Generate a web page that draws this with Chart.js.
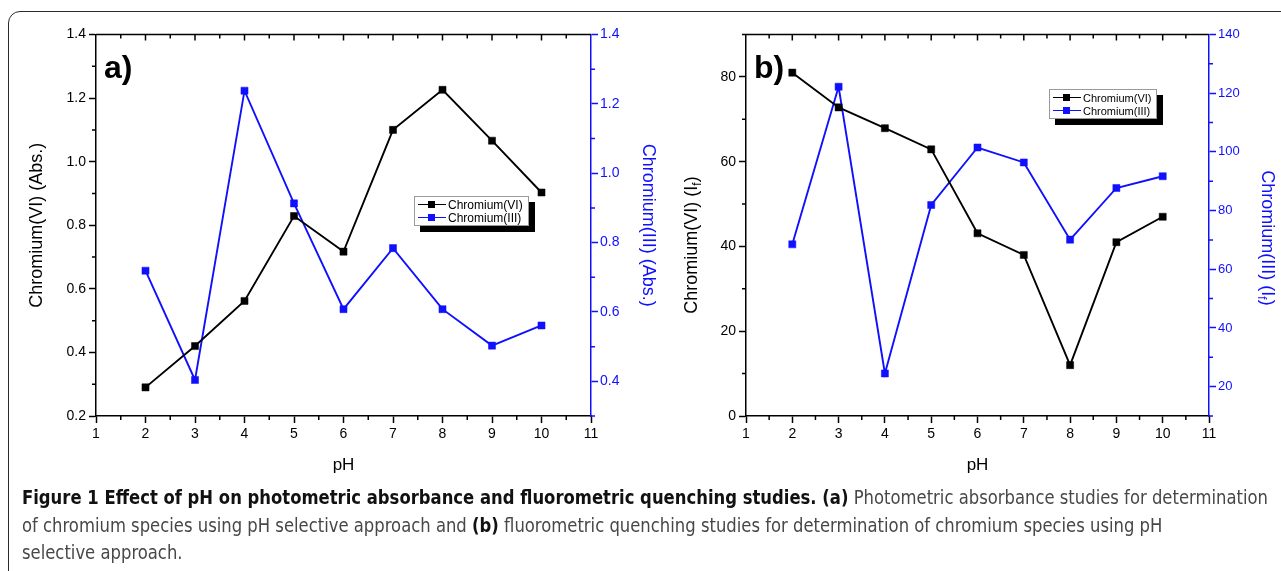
<!DOCTYPE html>
<html>
<head>
<meta charset="utf-8">
<script src="https://cdn.jsdelivr.net/npm/chart.js@4.4.1/dist/chart.umd.min.js"></script>
<style>
body { margin: 0; background: #fff; width: 1281px; height: 571px; overflow: hidden; position: relative; font-family: "Liberation Sans", Arial, sans-serif; }
#frame { position: absolute; left: 8px; top: 11px; width: 1300px; height: 640px; border: 1.5px solid #2b2b2b; border-radius: 12px; }
canvas { position: absolute; top: 0; }
#chartA { left: 0; }
#chartB { left: 670px; }
.legend { position: absolute; background: #fff; border: 1px solid #9a9a9a; box-shadow: 6px 6px 0 #000; font-size: 11px; padding: 1px 5px 1px 3px; color: #000; }
.legend .row { display: flex; align-items: center; height: 13px; white-space: nowrap; }
.legend .sw { position: relative; width: 28px; height: 13px; margin-right: 2px; }
.legend .sw i { position: absolute; left: 0; right: 0; top: 5.5px; height: 1.8px; }
.legend .sw b { position: absolute; left: 10px; top: 2.5px; width: 7px; height: 7px; }
#caption { position: absolute; left: 22px; top: 484px; font-family: "Liberation Sans Narrow", "DejaVu Sans Condensed", "Liberation Sans", sans-serif; font-size: 19px; line-height: 27.5px; color: #474747; }
#caption .ln { display: block; white-space: nowrap; transform-origin: 0 0; }
#caption b { color: #111; }
</style>
</head>
<body>
<div id="frame"></div>
<canvas id="chartA" width="670" height="490"></canvas>
<canvas id="chartB" width="611" height="490"></canvas>
<div class="legend" id="legendA" style="left:414px; top:196px; font-size:12px;"></div>
<div class="legend" id="legendB" style="left:1049px; top:89px;"></div>
<div id="caption">
  <span class="ln"><b>Figure 1 Effect of pH on photometric absorbance and fluorometric quenching studies. (a)</b> Photometric absorbance studies for determination</span>
  <span class="ln">of chromium species using pH selective approach and <b>(b)</b> fluorometric quenching studies for determination of chromium species using pH</span>
  <span class="ln">selective approach.</span>
</div>
<script>
// valores
const pH = [2, 3, 4, 5, 6, 7, 8, 9, 10];
const absCr6 = [0.29, 0.42, 0.562, 0.829, 0.717, 1.10, 1.226, 1.066, 0.903];
const absCr3 = [0.719, 0.404, 1.238, 0.913, 0.608, 0.784, 0.608, 0.503, 0.561];
const fluoCr6 = [81, 72.8, 67.9, 62.9, 43.1, 38, 12, 41, 47];
const fluoCr3 = [68.5, 122.2, 24.5, 81.9, 101.5, 96.4, 70.1, 87.7, 91.7];
const seriesNames = ["Chromium(VI)", "Chromium(III)"];

const xTicks = [1, 2, 3, 4, 5, 6, 7, 8, 9, 10, 11];
const absLeftTicks = [0.2, 0.4, 0.6, 0.8, 1.0, 1.2, 1.4];
const absRightTicks = [0.4, 0.6, 0.8, 1.0, 1.2, 1.4];
const fluoLeftTicks = [0, 20, 40, 60, 80];
const fluoRightTicks = [20, 40, 60, 80, 100, 120, 140];

const absTitles = ["Chromium(VI) (Abs.)", "Chromium(III) (Abs.)"];
const fluoTitles = ["Chromium(VI) (I", "Chromium(III) (I"];

const BLUE = "#1010ff";
const FONT = '"Liberation Sans", Arial, sans-serif';

// dibuja ticks menores, borde superior y titulos con subindice
const marcosPlugin = {
    id: "marcos",
    afterDraw(chart, args, opts) {
        const ctx = chart.ctx;
        const a = chart.chartArea;
        const x = chart.scales.x, y = chart.scales.y, y2 = chart.scales.y2;
        ctx.save();
        ctx.lineWidth = 1.5;
        ctx.strokeStyle = "#000";
        ctx.beginPath();
        ctx.moveTo(a.left, a.top);
        ctx.lineTo(a.right, a.top);
        ctx.stroke();

        ctx.beginPath();
        for (let v = x.min + 0.5; v < x.max; v += 0.5) {
            const px = x.getPixelForValue(v);
            const mayor = Number.isInteger(v);
            ctx.moveTo(px, a.top);
            ctx.lineTo(px, a.top + (mayor ? 6 : 4));
            if (!mayor) {
                ctx.moveTo(px, a.bottom);
                ctx.lineTo(px, a.bottom + 4);
            }
        }
        for (let v = y.min + opts.minorL; v < y.max + 1e-9; v += opts.minorL * 2) {
            const py = y.getPixelForValue(v);
            ctx.moveTo(a.left, py);
            ctx.lineTo(a.left - 4, py);
        }
        ctx.stroke();

        ctx.strokeStyle = BLUE;
        ctx.beginPath();
        for (let v = opts.minorR0; v < y2.max + 1e-9; v += opts.minorL2) {
            const py = y2.getPixelForValue(v);
            ctx.moveTo(a.right, py);
            ctx.lineTo(a.right + 4, py);
        }
        ctx.stroke();

        // etiqueta del panel
        ctx.fillStyle = "#000";
        ctx.font = "bold 32px " + FONT;
        ctx.textBaseline = "alphabetic";
        ctx.textAlign = "left";
        ctx.fillText(opts.panel, a.left + opts.panelDx, 78);

        if (opts.subTitles) {
            const t = opts.subTitles;
            tituloSub(ctx, t.lx, t.ly, -Math.PI / 2, fluoTitles[0], "f", ")", 18, "#000");
            tituloSub(ctx, t.rx, t.ry, Math.PI / 2, fluoTitles[1], "f", ")", 18, BLUE);
        }
        ctx.restore();
    }
};

function tituloSub(ctx, x, y, rot, main, sub, tail, size, color) {
    ctx.save();
    ctx.translate(x, y);
    ctx.rotate(rot);
    ctx.fillStyle = color;
    ctx.textBaseline = "middle";
    ctx.textAlign = "left";
    const f1 = size + "px " + FONT;
    const f2 = Math.round(size * 0.65) + "px " + FONT;
    ctx.font = f1;
    const w1 = ctx.measureText(main).width;
    const w3 = ctx.measureText(tail).width;
    ctx.font = f2;
    const w2 = ctx.measureText(sub).width;
    let cx = -(w1 + w2 + w3) / 2;
    ctx.font = f1;
    ctx.fillText(main, cx, 0);
    cx += w1;
    ctx.font = f2;
    ctx.fillText(sub, cx, size * 0.32);
    cx += w2;
    ctx.font = f1;
    ctx.fillText(tail, cx, 0);
    ctx.restore();
}

function serie(vals, color, axis, label) {
    return {
        label: label,
        data: pH.map((x, i) => ({ x: x, y: vals[i] })),
        yAxisID: axis,
        borderColor: color,
        backgroundColor: color,
        pointBackgroundColor: color,
        pointBorderColor: color,
        pointStyle: "rect",
        pointRadius: 5,
        pointBorderWidth: 0.5,
        borderWidth: 1.9,
        tension: 0
    };
}

function crearPanel(id, cfg) {
    return new Chart(document.getElementById(id), {
        type: "line",
        data: {
            datasets: [
                serie(cfg.left, "#000", "y", seriesNames[0]),
                serie(cfg.right, BLUE, "y2", seriesNames[1])
            ]
        },
        options: {
            responsive: false,
            animation: false,
            layout: { padding: { top: 34.5, left: 0, right: 0, bottom: 0 } },
            plugins: {
                legend: { display: false },
                tooltip: { enabled: false },
                marcos: cfg.marcos
            },
            scales: {
                x: {
                    type: "linear", min: 1, max: 11,
                    afterBuildTicks: s => { s.ticks = xTicks.map(v => ({ value: v })); },
                    afterFit: s => { s.height = 74; },
                    grid: { drawOnChartArea: false, tickLength: 7, tickColor: "#000", tickWidth: 1.5 },
                    border: { color: "#000", width: 1.5 },
                    ticks: { color: "#000", font: { size: 14, family: FONT }, padding: 3, maxRotation: 0, autoSkip: false },
                    title: { display: true, text: "pH", color: "#000", font: { size: 17, family: FONT }, padding: { bottom: 14 } }
                },
                y: {
                    type: "linear", position: "left", min: cfg.lmin, max: cfg.lmax,
                    afterBuildTicks: s => { s.ticks = cfg.lticks.map(v => ({ value: v })); },
                    afterFit: s => { s.width = cfg.lw; },
                    grid: { drawOnChartArea: false, tickLength: 7, tickColor: "#000", tickWidth: 1.5 },
                    border: { color: "#000", width: 1.5 },
                    ticks: { color: "#000", font: { size: 14, family: FONT }, padding: 3, callback: cfg.fmt },
                    title: cfg.ltitle
                },
                y2: {
                    type: "linear", position: "right", min: cfg.rmin, max: cfg.rmax,
                    afterBuildTicks: s => { s.ticks = cfg.rticks.map(v => ({ value: v })); },
                    afterFit: s => { s.width = cfg.rw; },
                    grid: { drawOnChartArea: false, tickLength: 7, tickColor: BLUE, tickWidth: 1.5 },
                    border: { color: BLUE, width: 1.5 },
                    ticks: { color: BLUE, font: { size: cfg.rsize, family: FONT }, padding: 2, callback: cfg.fmt },
                    title: cfg.rtitle
                }
            }
        },
        plugins: [marcosPlugin]
    });
}

const chartA = crearPanel("chartA", {
    left: absCr6, right: absCr3,
    lmin: 0.2, lmax: 1.4, rmin: 0.3, rmax: 1.4,
    lticks: absLeftTicks, rticks: absRightTicks,
    lw: 96, rw: 79, rsize: 14,
    fmt: v => Number(v).toFixed(1),
    ltitle: { display: true, text: absTitles[0], color: "#000", font: { size: 18, family: FONT }, padding: { top: 26 } },
    rtitle: { display: true, text: absTitles[1], color: BLUE, font: { size: 18, family: FONT }, padding: { top: 11 } },
    marcos: { minorL: 0.1, minorR0: 0.3, minorL2: 0.2, panel: "a)", panelDx: 8 }
});

const chartB = crearPanel("chartB", {
    left: fluoCr6, right: fluoCr3,
    lmin: 0, lmax: 90, rmin: 10, rmax: 140,
    lticks: fluoLeftTicks, rticks: fluoRightTicks,
    lw: 76, rw: 72, rsize: 13,
    fmt: v => String(v),
    ltitle: { display: false },
    rtitle: { display: false },
    marcos: { minorL: 10, minorR0: 10, minorL2: 20, panel: "b)", panelDx: 8,
              subTitles: { lx: 22, ly: 245, rx: 597, ry: 238 } }
});

// leyendas html a partir de los datasets
function leyenda(divId, chart) {
    const div = document.getElementById(divId);
    chart.data.datasets.forEach(ds => {
        const row = document.createElement("div");
        row.className = "row";
        row.innerHTML = '<span class="sw"><i style="background:' + ds.borderColor + '"></i><b style="background:' + ds.borderColor + '"></b></span>' + ds.label;
        div.appendChild(row);
    });
}
leyenda("legendA", chartA);
leyenda("legendB", chartB);

// ajustar el ancho del pie de figura
function ajustarPie() {
    const lns = document.querySelectorAll("#caption .ln");
    const w = lns[0].getBoundingClientRect().width;
    const s = 1246 / w;
    lns.forEach(l => { l.style.transform = "scaleX(" + s + ")"; });
}
ajustarPie();
</script>
</body>
</html>
